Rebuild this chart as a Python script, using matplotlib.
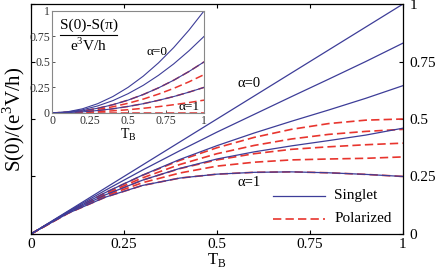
import numpy as np
import matplotlib
matplotlib.use('Agg')
import matplotlib.pyplot as plt

plt.rcParams['font.family'] = ['Liberation Serif', 'DejaVu Serif']
plt.rcParams['mathtext.fontset'] = 'custom'
plt.rcParams['mathtext.rm'] = 'Liberation Serif'

# transparency T_B, read on a 0.1 grid
T = [0, 0.1, 0.2, 0.3, 0.4, 0.5, 0.6, 0.7, 0.8, 0.9, 1.0]

# main panel, S(0) for alpha = 0, 0.25, 0.5, 0.75, 1
singlet = [
    [0, 0.100, 0.200, 0.300, 0.400, 0.500, 0.600, 0.700, 0.800, 0.900, 1.000],
    [0, 0.098, 0.190, 0.278, 0.362, 0.443, 0.520, 0.597, 0.673, 0.750, 0.830],
    [0, 0.095, 0.180, 0.256, 0.324, 0.384, 0.439, 0.490, 0.539, 0.590, 0.645],
    [0, 0.093, 0.170, 0.234, 0.285, 0.326, 0.357, 0.383, 0.406, 0.430, 0.460],
    [0, 0.090, 0.160, 0.211, 0.243, 0.260, 0.268, 0.270, 0.266, 0.259, 0.250],
]
polarized = [
    [0, 0.095, 0.180, 0.255, 0.320, 0.375, 0.420, 0.455, 0.480, 0.495, 0.500],
    [0, 0.094, 0.175, 0.244, 0.302, 0.349, 0.385, 0.413, 0.433, 0.446, 0.455],
    [0, 0.093, 0.170, 0.234, 0.284, 0.322, 0.349, 0.368, 0.379, 0.388, 0.395],
    [0, 0.091, 0.165, 0.223, 0.265, 0.295, 0.312, 0.322, 0.326, 0.329, 0.335],
    [0, 0.090, 0.160, 0.211, 0.243, 0.260, 0.268, 0.270, 0.266, 0.259, 0.250],
]

# inset, S(0)-S(pi)
singlet_diff = [
    [0, 0.010, 0.040, 0.090, 0.160, 0.250, 0.360, 0.490, 0.640, 0.810, 1.000],
    [0, 0.008, 0.030, 0.068, 0.120, 0.188, 0.270, 0.368, 0.480, 0.608, 0.750],
    [0, 0.005, 0.020, 0.045, 0.080, 0.125, 0.180, 0.245, 0.320, 0.405, 0.500],
    [0, 0.003, 0.010, 0.023, 0.040, 0.063, 0.090, 0.123, 0.160, 0.203, 0.250],
    [0, 0, 0, 0, 0, 0, 0, 0, 0, 0, 0],
]
polarized_diff = [
    [0, 0.005, 0.020, 0.045, 0.080, 0.125, 0.180, 0.245, 0.320, 0.405, 0.500],
    [0, 0.004, 0.015, 0.034, 0.060, 0.094, 0.135, 0.184, 0.240, 0.304, 0.375],
    [0, 0.003, 0.010, 0.023, 0.040, 0.063, 0.090, 0.123, 0.160, 0.203, 0.250],
    [0, 0.001, 0.005, 0.011, 0.020, 0.031, 0.045, 0.061, 0.080, 0.101, 0.125],
    [0, 0, 0, 0, 0, 0, 0, 0, 0, 0, 0],
]

ticks = [0, 0.25, 0.5, 0.75, 1]
tick_labels = ['0', '0.25', '0.5', '0.75', '1']

blue = '#3d3d98'
red = '#e8352e'

fig = plt.figure(figsize=(4.37, 2.72), dpi=100)
ax = fig.add_axes([0.071, 0.140, 0.851, 0.845])

for s in polarized:
    ax.plot(T, s, color=red, lw=1.2, dashes=(5, 2.5))
for s in singlet:
    ax.plot(T, s, color=blue, lw=0.9)

ax.set_xlim(0, 1)
ax.set_ylim(0, 1)
ax.set_xticks(ticks)
ax.set_xticklabels(tick_labels)
ax.set_yticks(ticks)
ax.set_yticklabels(tick_labels)
ax.tick_params(direction='in', length=3, width=0.8, labelsize=11,
               top=True, right=True, left=True, labelleft=False, labelright=True)
ax.tick_params(axis='x', pad=3)
ax.tick_params(axis='y', pad=5)
for sp in ax.spines.values():
    sp.set_linewidth(0.9)
ax.set_xlabel('T$_{\\mathrm{B}}$', fontsize=12, labelpad=0)
ax.set_ylabel('S(0)/(e$^3$V/h)', fontsize=15, labelpad=3)

ax.text(0.555, 0.656, 'α=0', fontsize=10.5, va='center', transform=ax.transAxes)
ax.text(0.555, 0.222, 'α=1', fontsize=10.5, va='center', transform=ax.transAxes)

# legend drawn by hand, no frame
ax.plot([0.652, 0.79], [0.165, 0.165], color=blue, lw=0.9, transform=ax.transAxes)
ax.plot([0.652, 0.79], [0.065, 0.065], color=red, lw=1.2, dashes=(5, 2.5),
        transform=ax.transAxes)
ax.text(0.815, 0.165, 'Singlet', fontsize=11, va='center', transform=ax.transAxes)
ax.text(0.815, 0.065, 'Polarized', fontsize=11, va='center', transform=ax.transAxes)

# inset
ins = fig.add_axes([0.119, 0.585, 0.348, 0.375])
ins.set_facecolor('white')
for s in polarized_diff:
    ins.plot(T, s, color=red, lw=1.1, dashes=(5, 2.5))
for s in singlet_diff:
    ins.plot(T, s, color=blue, lw=0.8)
ins.set_xlim(0, 1)
ins.set_ylim(0, 1)
ins.set_xticks(ticks)
ins.set_xticklabels(tick_labels)
ins.set_yticks(ticks)
ins.set_yticklabels(tick_labels)
ins.tick_params(direction='in', length=2, width=0.7, labelsize=8.5, pad=1.5,
                colors='#555555', labelcolor='#333333')
for sp in ins.spines.values():
    sp.set_color('#888888')
    sp.set_linewidth(0.8)
ins.set_xlabel('T$_{\\mathrm{B}}$', fontsize=10, labelpad=0)

ins.text(0.24, 0.86, 'S(0)-S(π)', fontsize=11, ha='center', va='center',
         transform=ins.transAxes)
ins.plot([0.05, 0.43], [0.76, 0.76], color='black', lw=0.8, transform=ins.transAxes)
ins.text(0.24, 0.66, 'e$^3$V/h', fontsize=11, ha='center', va='center',
         transform=ins.transAxes)
ins.text(0.62, 0.60, 'α=0', fontsize=9.5, va='center', transform=ins.transAxes)
ins.text(0.83, 0.06, 'α=1', fontsize=9.5, va='center', transform=ins.transAxes)

plt.savefig('out.png', dpi=100)
